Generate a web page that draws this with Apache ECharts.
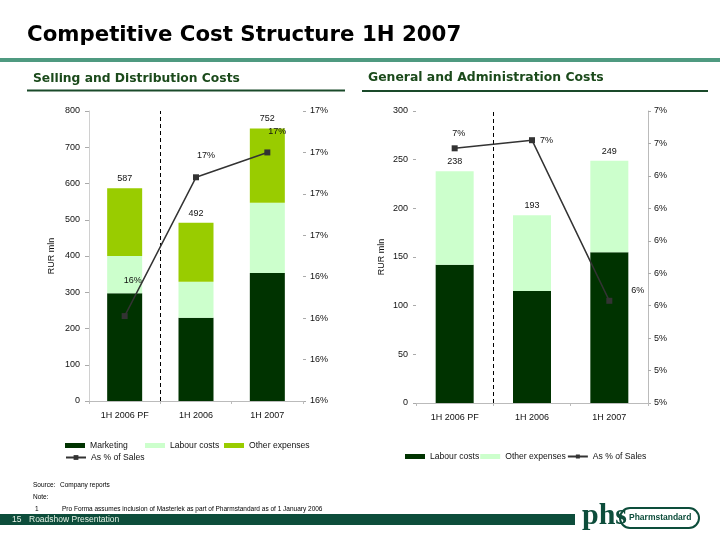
<!DOCTYPE html>
<html><head><meta charset="utf-8">
<script src="https://cdn.jsdelivr.net/npm/echarts@6/dist/echarts.min.js"></script>
<style>html,body{margin:0;padding:0;background:#fff}#c{width:720px;height:540px}</style>
</head><body><div id="c"></div>
<script>
// ---- data ----
const categories = ['1H 2006 PF', '1H 2006', '1H 2007'];
// Selling and Distribution Costs, RUR mln
const sdMarketing = [297, 230, 353];
const sdLabour = [103, 99, 194];
const sdOther = [187, 163, 205];
const sdPctOfSales = [16.21, 16.88, 17.0];
// General and Administration Costs, RUR mln
const gaLabour = [142, 115, 155];
const gaOther = [96, 78, 94];
const gaPctOfSales = [6.57, 6.62, 5.63];

// ---- styling ----
const FONT = '"Liberation Sans", Arial, sans-serif';
const HEAD = '"DejaVu Sans", sans-serif';
const DARK = '#003300', LIGHT = '#ccffcc', LIME = '#99cc00', LINE = '#333333';
const sdLabelOffsets = [[8, -23], [10, -9], [10, -8]];
const gaLabelPos = ['top', 'right', 'right'];
const gaLabelOffsets = [[4, -2], [0, 0], [14, -10]];
const sdLegendLefts = [65, 145, 224];
const GA = ' (G&A)';

function sum(arrs, i) { return arrs.reduce((s, a) => s + a[i], 0); }
const pct = v => Math.round(v + 1e-9) + '%';
const txt = {fontFamily: FONT, fontSize: 9, color: '#111'};
const legTxt = {fontFamily: FONT, fontSize: 8.6, color: '#111'};

const catAxis = (grid) => ({
  type: 'category', gridIndex: grid, data: categories,
  axisLine: {lineStyle: {color: '#bbbbbb'}},
  axisTick: {show: true, length: 3, lineStyle: {color: '#bbbbbb'}},
  axisLabel: Object.assign({margin: 10}, txt),
  splitLine: {show: false}
});
const dividerAxis = (grid) => ({type: 'value', gridIndex: grid, min: 0, max: categories.length, show: false});
const divider = (xi, yi) => ({
  type: 'line', xAxisIndex: xi, yAxisIndex: yi, data: [], silent: true,
  markLine: {silent: true, symbol: 'none', label: {show: false},
    lineStyle: {color: '#000', width: 1, type: [4, 3]}, data: [{xAxis: 1}]}
});
const sdLegend = ['Marketing', 'Labour costs', 'Other expenses'].map((n, i) => ({
  left: sdLegendLefts[i], top: 441, padding: 0, itemWidth: 20, itemHeight: 5, itemTextGap: 3,
  textStyle: legTxt, icon: 'rect', selectedMode: false, data: [n]
}));

const option = {
  animation: false,
  backgroundColor: '#fff',
  textStyle: {fontFamily: FONT},
  grid: [
    {left: 89, right: 720 - 303, top: 111, bottom: 540 - 401},
    {left: 416, right: 720 - 648, top: 111, bottom: 540 - 403}
  ],
  xAxis: [catAxis(0), catAxis(1), dividerAxis(0), dividerAxis(1)],
  yAxis: [
    {type: 'value', gridIndex: 0, min: 0, max: 800, interval: 100,
     name: 'RUR mln', nameLocation: 'middle', nameGap: 33, nameTextStyle: txt,
     axisLine: {show: true, lineStyle: {color: '#d0d0d0'}},
     axisTick: {show: true, length: 4, lineStyle: {color: '#aaa'}},
     axisLabel: Object.assign({margin: 9}, txt), splitLine: {show: false}},
    {type: 'value', gridIndex: 0, position: 'right', min: 15.8, max: 17.2, interval: 0.2,
     axisLine: {show: false},
     axisTick: {show: true, length: 3, lineStyle: {color: '#aaa'}},
     axisLabel: Object.assign({margin: 7, formatter: pct}, txt), splitLine: {show: false}},
    {type: 'value', gridIndex: 1, min: 0, max: 300, interval: 50,
     name: 'RUR mln', nameLocation: 'middle', nameGap: 30, nameTextStyle: txt,
     axisLine: {show: false},
     axisTick: {show: true, length: 3, lineStyle: {color: '#aaa'}},
     axisLabel: Object.assign({margin: 8}, txt), splitLine: {show: false}},
    {type: 'value', gridIndex: 1, position: 'right', min: 5.0, max: 6.8, interval: 0.2,
     axisLine: {show: true, lineStyle: {color: '#bbbbbb'}},
     axisTick: {show: true, length: 3, lineStyle: {color: '#aaa'}},
     axisLabel: Object.assign({margin: 6, formatter: pct}, txt), splitLine: {show: false}}
  ],
  legend: sdLegend.concat([
    {left: 65, top: 453, padding: 0, itemWidth: 20, itemHeight: 6, itemTextGap: 2, textStyle: legTxt, selectedMode: false,
     data: ['As % of Sales']},
    {left: 405, top: 452, padding: 0, itemWidth: 20, itemHeight: 5, itemGap: 1, itemTextGap: 2, textStyle: legTxt, selectedMode: false,
     formatter: n => n.replace(GA, ''),
     data: [{name: 'Labour costs' + GA, icon: 'rect'}, {name: 'Other expenses' + GA, icon: 'rect'}, {name: 'As % of Sales' + GA}]}
  ]),
  series: [
    {name: 'Marketing', type: 'bar', stack: 'sd', xAxisIndex: 0, yAxisIndex: 0, barWidth: 35,
     itemStyle: {color: DARK}, data: sdMarketing},
    {name: 'Labour costs', type: 'bar', stack: 'sd', xAxisIndex: 0, yAxisIndex: 0, barWidth: 35,
     itemStyle: {color: LIGHT}, data: sdLabour},
    {name: 'Other expenses', type: 'bar', stack: 'sd', xAxisIndex: 0, yAxisIndex: 0, barWidth: 35,
     itemStyle: {color: LIME}, data: sdOther,
     label: Object.assign({show: true, position: 'top', distance: 5,
       formatter: p => String(sum([sdMarketing, sdLabour, sdOther], p.dataIndex))}, txt)},
    {name: 'As % of Sales', type: 'line', xAxisIndex: 0, yAxisIndex: 1, z: 5,
     symbol: 'rect', symbolSize: 6, lineStyle: {color: LINE, width: 1.5}, itemStyle: {color: LINE},
     data: sdPctOfSales.map((v, i) => ({value: v,
       label: Object.assign({show: true, position: 'top', distance: 5, offset: sdLabelOffsets[i],
         formatter: p => pct(p.value)}, txt)}))},
    divider(2, 0),

    {name: 'Labour costs' + GA, type: 'bar', stack: 'ga', xAxisIndex: 1, yAxisIndex: 2, barWidth: 38,
     itemStyle: {color: DARK}, data: gaLabour},
    {name: 'Other expenses' + GA, type: 'bar', stack: 'ga', xAxisIndex: 1, yAxisIndex: 2, barWidth: 38,
     itemStyle: {color: LIGHT}, data: gaOther,
     label: Object.assign({show: true, position: 'top', distance: 5,
       formatter: p => String(sum([gaLabour, gaOther], p.dataIndex))}, txt)},
    {name: 'As % of Sales' + GA, type: 'line', xAxisIndex: 1, yAxisIndex: 3, z: 5,
     symbol: 'rect', symbolSize: 6, lineStyle: {color: LINE, width: 1.5}, itemStyle: {color: LINE},
     data: gaPctOfSales.map((v, i) => ({value: v,
       label: Object.assign({show: true, position: gaLabelPos[i], distance: 5, offset: gaLabelOffsets[i],
         formatter: p => pct(p.value)}, txt)}))},
    divider(3, 2)
  ],
  graphic: [
    {type: 'text', left: 27, top: 25, style: {text: 'Competitive Cost Structure 1H 2007', fontFamily: HEAD, fontWeight: 'bold', fontSize: 21.3, fill: '#000'}},
    {type: 'rect', shape: {x: 0, y: 58, width: 720, height: 4}, style: {fill: '#4f9a80'}},
    {type: 'text', left: 33, top: 73, style: {text: 'Selling and Distribution Costs', fontFamily: HEAD, fontWeight: 'bold', fontSize: 12.3, fill: '#1b4a1b'}},
    {type: 'text', left: 368, top: 72, style: {text: 'General and Administration Costs', fontFamily: HEAD, fontWeight: 'bold', fontSize: 12.4, fill: '#1b4a1b'}},
    {type: 'rect', shape: {x: 27, y: 89.5, width: 318, height: 2}, style: {fill: '#1a4a2a'}},
    {type: 'rect', shape: {x: 362, y: 90, width: 346, height: 2}, style: {fill: '#1a4a2a'}},
    {type: 'text', left: 33, top: 482, style: {text: 'Source:', fontFamily: FONT, fontSize: 6.5, fill: '#000'}},
    {type: 'text', left: 60, top: 482, style: {text: 'Company reports', fontFamily: FONT, fontSize: 6.5, fill: '#000'}},
    {type: 'text', left: 33, top: 494, style: {text: 'Note:', fontFamily: FONT, fontSize: 6.5, fill: '#000'}},
    {type: 'text', left: 35, top: 506, style: {text: '1', fontFamily: FONT, fontSize: 6.5, fill: '#000'}},
    {type: 'text', left: 62, top: 506, style: {text: 'Pro Forma assumes inclusion of Masterlek as part of Pharmstandard as of 1 January 2006', fontFamily: FONT, fontSize: 6.5, fill: '#000'}},
    {type: 'rect', shape: {x: 0, y: 514, width: 575, height: 11}, style: {fill: '#0d4d3b'}},
    {type: 'text', left: 12, top: 515, style: {text: '15', fontFamily: FONT, fontSize: 8.5, fill: '#e6f2e6'}},
    {type: 'text', left: 29, top: 515, style: {text: 'Roadshow Presentation', fontFamily: FONT, fontSize: 8.5, fill: '#e6f2e6'}},
    {type: 'rect', shape: {x: 620, y: 508, width: 79, height: 20, r: 10}, style: {fill: '#fff', stroke: '#0d4d3b', lineWidth: 2}},
    {type: 'text', left: 629, top: 513, style: {text: 'Pharmstandard', fontFamily: FONT, fontWeight: 'bold', fontSize: 8.5, fill: '#0d4d3b'}},
    {type: 'text', left: 582, top: 501, style: {text: 'phs', fontFamily: '"Liberation Serif", serif', fontWeight: 'bold', fontSize: 30, fill: '#0d4d3b'}}
  ]
};
const chart = echarts.init(document.getElementById('c'), null, {renderer: 'canvas'});
chart.setOption(option);
</script></body></html>
